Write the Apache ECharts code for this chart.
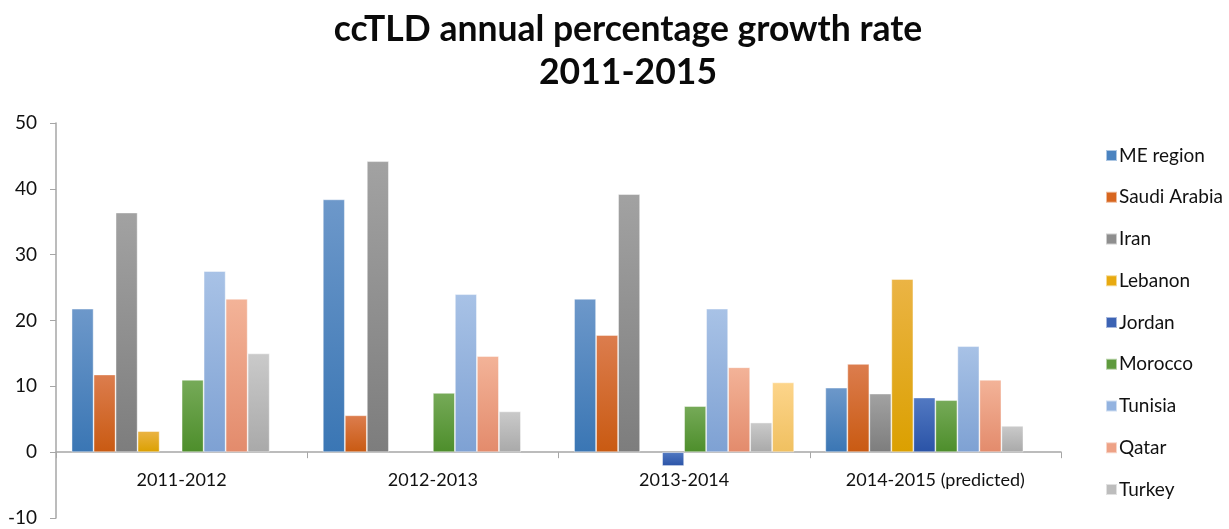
<!DOCTYPE html>
<html>
<head>
<meta charset="utf-8">
<script src="https://cdn.jsdelivr.net/npm/echarts@6/dist/echarts.min.js"></script>
<style>
html,body{margin:0;padding:0;background:#fff;}
#chart{width:1229px;height:529px;}
</style>
</head>
<body>
<div id="chart"></div>
<script>
const categories = ['2011-2012', '2012-2013', '2013-2014', '2014-2015 (predicted)'];
const seriesNames = ['ME region', 'Saudi Arabia', 'Iran', 'Lebanon', 'Jordan', 'Morocco', 'Tunisia', 'Qatar', 'Turkey', 'Other'];
const meRegion    = [21.8, 38.4, 23.3, 9.8];
const saudiArabia = [11.8, 5.6, 17.8, 13.4];
const iran        = [36.4, 44.2, 39.2, 8.9];
const lebanon     = [3.2, null, null, 26.3];
const jordan      = [null, null, -2.1, 8.3];
const morocco     = [11.0, 9.0, 7.0, 7.9];
const tunisia     = [27.5, 24.0, 21.8, 16.1];
const qatar       = [23.3, 14.6, 12.9, 11.0];
const turkey      = [15.0, 6.2, 4.5, 4.0];
const other       = [null, null, 10.6, null];
const yTicks = [-10, 0, 10, 20, 30, 40, 50];

const values = [meRegion, saudiArabia, iran, lebanon, jordan, morocco, tunisia, qatar, turkey, other];
const colorPairs = [
  ['#6d98ca', '#3a76b4', '#4a83c0'],
  ['#dc7d4e', '#c95a12', '#d8661f'],
  ['#a2a2a2', '#7d7d7d', '#8e8e8e'],
  ['#ebb445', '#dba000', '#e8aa10'],
  ['#5279c2', '#2a53a7', '#3c63b4'],
  ['#76aa58', '#4d8e2b', '#5f9b3e'],
  ['#a8c2e6', '#7ea1d3', '#93b3e0'],
  ['#f3b398', '#e38b6c', '#eea286'],
  ['#cacaca', '#a9a9a9', '#bdbdbd'],
  ['#fdd58b', '#f0c060', '#fbcf80']
];

const series = seriesNames.map((name, i) => ({
  name: name,
  type: 'bar',
  data: values[i],
  barGap: '0%',
  barCategoryGap: '12.4%',
  itemStyle: {
    color: new echarts.graphic.LinearGradient(0, 0, 0, 1, [
      {offset: 0, color: colorPairs[i][0]},
      {offset: 1, color: colorPairs[i][1]}
    ]),
    borderColor: 'rgba(255,255,255,0.55)',
    borderWidth: 0.8
  }
}));

const chart = echarts.init(document.getElementById('chart'), null, {renderer: 'canvas'});
chart.setOption({
  animation: false,
  backgroundColor: '#ffffff',
  title: {
    text: 'ccTLD annual percentage growth rate\n2011-2015',
    left: 623,
    textAlign: 'center',
    top: 3,
    textStyle: {
      fontFamily: 'Lato',
      fontWeight: 'bold',
      fontSize: 35.5,
      lineHeight: 43,
      color: '#0a0a0a'
    }
  },
  legend: {
    orient: 'vertical',
    left: 1100,
    top: 141,
    itemWidth: 11,
    itemHeight: 11,
    itemGap: 22.75,
    icon: 'rect',
    data: seriesNames.slice(0, 9).map((n, i) => ({name: n, itemStyle: {color: colorPairs[i][2]}})),
    textStyle: {
      fontFamily: 'Lato',
      fontSize: 19,
      lineHeight: 19,
      color: '#111',
      padding: [0, 0, 0, -3]
    }
  },
  grid: {
    left: 56,
    right: 168,
    top: 123,
    bottom: 11,
    containLabel: false,
    outerBoundsMode: 'none'
  },
  xAxis: [{
    type: 'category',
    data: categories,
    axisLine: {onZero: true, lineStyle: {color: '#a6a6a6', width: 1.5}},
    axisTick: {show: true, length: 6, lineStyle: {color: '#a6a6a6'}},
    axisLabel: {show: false}
  }, {
    type: 'category',
    data: categories,
    position: 'bottom',
    offset: -47,
    axisLine: {show: false, onZero: false},
    axisTick: {show: false},
    axisLabel: {
      fontFamily: 'Lato',
      fontSize: 18,
      color: '#111',
      margin: 0
    }
  }],
  yAxis: {
    type: 'value',
    min: yTicks[0],
    max: yTicks[yTicks.length - 1],
    interval: 10,
    splitLine: {show: false},
    axisLine: {show: true, lineStyle: {color: '#a6a6a6', width: 1.5}},
    axisTick: {show: true, inside: false, length: 6, lineStyle: {color: '#a6a6a6'}},
    axisLabel: {
      fontFamily: 'Lato',
      fontSize: 19,
      color: '#111',
      margin: 19
    }
  },
  series: series
});
</script>
</body>
</html>
